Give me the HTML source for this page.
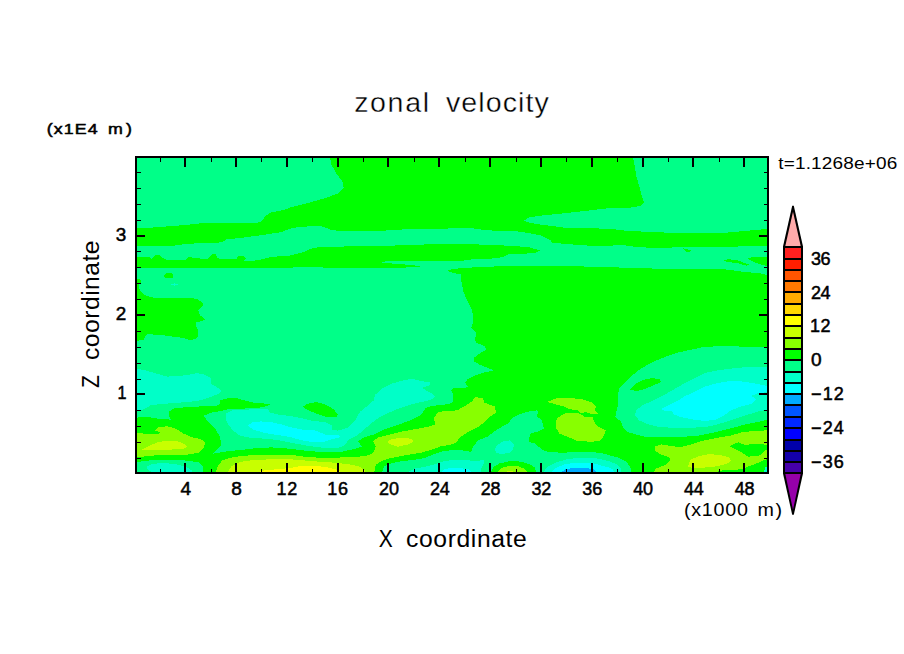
<!DOCTYPE html>
<html><head><meta charset="utf-8"><title>zonal velocity</title>
<style>
html,body{margin:0;padding:0;background:#fff;}
body{width:904px;height:654px;overflow:hidden;}
svg{display:block;font-family:"Liberation Sans",sans-serif;}
</style></head><body>
<svg width="904" height="654" viewBox="0 0 904 654">
<rect width="904" height="654" fill="#fff"/>
<clipPath id="cp"><rect x="136" y="157" width="632" height="316"/></clipPath>
<g shape-rendering="crispEdges">
<rect x="136" y="157" width="632" height="316" fill="#00ff88"/>
<g clip-path="url(#cp)">
<path fill="#00ff00" d="M329.8,157.0 L331.6,165.0 L336.0,173.0 L342.7,181.9 L343.6,188.0 L337.8,193.4 L325.4,198.1 L307.7,203.1 L290.0,207.5 L284.0,210.0 L271.6,212.3 L266.0,215.5 L262.0,220.8 L257.4,223.0 L236.0,223.5 L222.0,222.6 L208.0,222.6 L183.0,225.2 L156.5,227.3 L136.0,228.4 L136.0,245.6 L174.0,245.6 L183.0,244.3 L197.0,243.3 L222.0,242.4 L226.5,239.4 L243.0,237.6 L262.7,235.0 L280.4,232.3 L290.0,228.8 L298.8,227.0 L313.0,226.1 L321.9,226.5 L330.7,229.6 L336.0,230.5 L385.6,230.5 L405.0,229.3 L447.5,228.8 L450.0,227.9 L469.5,227.9 L481.9,229.6 L492.5,230.5 L517.3,231.4 L529.6,233.2 L542.0,235.8 L550.9,240.3 L550.9,242.4 L563.3,243.8 L588.0,245.6 L610.0,245.6 L624.0,245.2 L636.5,247.0 L654.2,247.9 L680.8,247.3 L734.0,247.0 L744.5,245.6 L768.0,245.6 L768.0,228.8 L744.5,231.0 L725.0,232.8 L672.0,232.8 L645.4,231.8 L624.2,230.5 L610.0,228.8 L588.0,228.2 L563.3,227.5 L538.5,224.3 L527.9,222.2 L524.0,220.4 L529.6,217.3 L542.0,215.5 L563.3,213.4 L584.5,211.0 L610.0,208.0 L631.2,207.5 L641.0,205.8 L644.0,202.2 L641.9,196.0 L636.5,176.5 L633.0,157.0Z"/>
<path fill="#00ff00" d="M136.0,257.3 L149.5,257.3 L151.0,259.0 L153.0,257.0 L155.0,255.2 L160.0,255.5 L163.0,258.0 L166.0,259.5 L186.0,259.5 L188.0,257.0 L191.0,256.6 L193.0,258.5 L199.0,257.8 L202.0,259.3 L208.0,259.0 L210.0,256.0 L213.0,254.0 L216.0,254.6 L217.0,257.5 L220.0,259.5 L236.0,259.3 L238.0,256.5 L244.0,256.0 L246.0,258.5 L244.0,261.0 L257.4,260.4 L268.0,257.7 L278.7,256.3 L290.0,255.5 L302.4,252.4 L313.0,248.0 L320.0,247.0 L359.0,246.2 L405.0,245.3 L438.7,243.9 L450.0,243.9 L476.5,244.4 L508.4,245.7 L527.9,247.0 L540.3,250.6 L536.7,252.4 L524.3,253.8 L508.4,254.5 L502.2,257.3 L490.7,258.6 L471.2,259.5 L460.6,260.9 L450.0,260.9 L386.5,260.9 L382.0,262.7 L389.0,263.4 L401.5,263.9 L410.0,265.3 L420.0,265.7 L420.0,266.5 L410.0,266.5 L405.0,267.8 L334.0,267.8 L300.6,266.9 L290.0,267.8 L183.0,267.8 L165.0,268.3 L136.0,267.8Z"/>
<path fill="#00ff00" d="M136.0,278.0 L140.6,279.8 L141.0,283.4 L138.8,285.0 L139.7,289.6 L143.3,294.0 L147.7,296.3 L153.0,297.5 L176.0,298.0 L190.2,297.5 L197.3,299.3 L202.6,302.8 L202.6,306.4 L198.1,310.0 L200.0,315.2 L205.2,319.6 L200.8,321.4 L196.4,322.3 L196.4,326.7 L198.1,330.3 L198.1,336.5 L195.5,339.0 L190.2,340.0 L183.0,337.9 L172.5,336.5 L158.3,334.7 L147.7,334.3 L145.0,336.5 L143.3,340.0 L136.0,340.9Z"/>
<path fill="#00ff00" d="M164.0,275.5 L166.0,273.2 L171.0,273.0 L173.0,275.0 L173.0,277.5 L165.0,277.7Z"/>
<path fill="#00ff00" d="M446.6,271.0 L450.0,270.0 L451.8,269.2 L463.3,268.0 L481.9,266.9 L503.0,266.2 L563.3,266.2 L610.0,266.9 L624.0,267.8 L659.6,268.7 L723.3,269.2 L744.5,271.9 L762.2,273.6 L768.0,275.4 L768.0,473.0 L631.2,473.0 L630.4,466.9 L626.0,461.6 L617.0,457.2 L610.0,455.4 L604.0,453.6 L591.6,451.9 L577.4,451.9 L563.3,452.7 L549.0,452.2 L542.0,450.0 L538.5,446.5 L535.0,443.5 L529.6,442.3 L528.8,439.1 L530.5,433.8 L538.5,431.2 L543.8,428.5 L542.0,420.5 L536.7,416.1 L538.5,412.6 L536.7,410.4 L527.9,411.7 L519.0,414.3 L512.0,417.9 L508.4,423.2 L503.0,426.2 L494.2,431.5 L487.2,436.8 L478.3,440.4 L473.0,446.5 L471.2,451.9 L460.6,450.0 L450.0,450.4 L442.2,451.5 L433.4,454.5 L424.5,458.0 L413.9,459.8 L399.7,461.6 L389.0,463.9 L383.8,466.9 L382.0,473.0 L203.5,473.0 L202.6,466.0 L199.0,462.5 L188.4,460.7 L174.2,459.8 L154.8,459.8 L144.2,461.0 L136.0,462.5 L136.0,417.9 L142.4,416.5 L147.7,417.0 L158.3,418.8 L170.7,419.6 L169.0,416.0 L169.0,411.7 L174.2,408.1 L186.6,407.3 L200.8,406.4 L211.4,406.4 L219.4,405.1 L220.3,400.2 L227.3,398.4 L236.2,398.0 L245.0,400.5 L253.9,402.8 L262.7,403.4 L270.7,404.0 L268.0,405.8 L257.4,408.1 L239.7,408.7 L229.0,409.0 L222.0,410.8 L211.4,412.6 L203.5,415.8 L207.9,421.4 L215.0,428.5 L219.4,435.6 L221.2,442.7 L220.3,446.5 L216.7,450.0 L213.2,453.6 L225.6,451.5 L243.3,449.7 L257.4,448.0 L271.6,447.4 L290.0,448.7 L307.7,451.0 L325.4,452.2 L343.0,451.5 L355.5,448.7 L361.7,446.5 L358.0,441.2 L364.3,437.3 L373.2,434.7 L382.0,430.3 L392.7,426.7 L405.0,422.3 L413.9,418.8 L421.0,415.2 L425.4,408.1 L431.6,405.8 L442.2,405.1 L450.0,403.7 L452.7,402.0 L453.5,394.9 L450.9,390.4 L453.5,388.1 L468.6,387.4 L465.0,382.5 L467.7,379.0 L474.8,375.4 L485.4,372.2 L493.9,370.4 L489.0,368.3 L480.0,364.8 L473.9,361.2 L473.9,357.7 L480.0,353.3 L486.3,349.7 L484.5,346.2 L476.5,342.7 L474.8,340.0 L476.5,332.9 L471.2,327.6 L473.0,323.2 L473.0,314.3 L471.2,308.1 L466.8,300.2 L463.3,291.3 L461.5,281.6 L461.0,274.5 L455.3,273.3 L450.0,271.9Z"/>
<path fill="#00ff00" d="M302.7,406.9 L307.7,403.7 L316.5,402.0 L325.4,404.6 L333.4,409.0 L337.8,414.3 L336.9,417.0 L325.4,416.5 L316.5,413.5 L307.7,410.0Z"/>
<path fill="#00ff00" d="M723.3,260.4 L728.6,259.1 L737.4,260.4 L749.8,264.8 L746.3,265.7 L737.4,263.0 L726.8,262.0Z"/>
<path fill="#00ff00" d="M746.3,257.7 L768.0,256.8 L768.0,266.5 L762.2,264.8 L751.6,261.2Z"/>
<path fill="#00ff00" d="M682.6,248.0 L691.4,250.5 L690.0,252.0 L686.0,251.5Z"/>
<path fill="#00ff00" d="M490.7,473.0 L493.4,466.9 L499.6,463.4 L510.2,461.0 L520.8,461.6 L529.6,464.2 L535.0,467.8 L536.4,473.0Z"/>
<path fill="#00ff88" d="M768.0,347.4 L748.0,347.0 L734.0,346.2 L716.2,346.2 L702.0,347.4 L687.9,350.3 L677.3,352.7 L663.0,357.7 L650.7,363.0 L640.0,369.2 L631.2,376.3 L624.2,383.4 L618.8,388.7 L618.0,396.6 L618.0,405.5 L616.2,411.7 L615.3,417.0 L620.6,421.4 L623.3,427.6 L627.7,432.0 L636.5,434.7 L647.2,437.3 L663.0,437.3 L680.8,437.0 L698.5,435.6 L716.2,432.0 L730.4,428.5 L744.5,424.6 L758.7,421.8 L768.0,419.6Z"/>
<path fill="#00ff00" d="M630.4,389.6 L634.8,384.2 L643.6,379.8 L652.5,378.0 L659.6,379.3 L661.3,382.0 L654.2,385.0 L645.4,388.7 L636.5,391.3Z"/>
<path fill="#88ff00" d="M136.0,432.4 L147.7,434.2 L158.3,433.8 L160.0,432.4 L154.8,430.3 L158.3,427.4 L167.2,426.2 L176.0,428.8 L183.0,433.3 L192.0,437.3 L200.8,439.1 L205.2,442.0 L203.5,448.3 L199.0,452.7 L188.4,454.5 L174.2,455.0 L158.3,455.0 L146.0,456.3 L136.0,457.2Z"/>
<path fill="#88ff00" d="M215.0,473.0 L218.5,465.0 L222.0,460.7 L229.0,458.0 L239.7,456.3 L253.9,455.0 L271.6,454.5 L290.0,454.5 L300.6,456.3 L316.5,457.5 L339.6,457.5 L357.3,456.8 L367.9,455.4 L373.2,452.7 L375.8,446.5 L373.2,441.2 L378.5,437.3 L389.0,434.7 L399.7,432.0 L413.9,429.4 L428.0,426.7 L435.0,424.6 L434.2,417.9 L437.8,412.6 L444.0,410.8 L450.0,410.8 L457.0,410.4 L464.2,406.4 L471.2,402.0 L475.7,397.0 L482.7,398.4 L484.5,402.8 L495.0,406.4 L496.0,412.6 L490.7,416.1 L485.4,421.4 L478.3,426.7 L469.5,431.2 L462.4,435.6 L458.0,440.0 L455.3,443.0 L450.0,444.8 L440.4,446.5 L431.6,449.7 L421.0,452.7 L410.4,454.5 L399.7,456.3 L389.0,458.6 L380.3,461.6 L375.8,465.0 L374.0,473.0Z"/>
<path fill="#88ff00" d="M547.0,402.0 L556.2,398.4 L570.4,398.0 L582.7,399.3 L591.6,402.3 L596.0,406.4 L595.0,410.0 L597.8,413.5 L591.6,414.3 L586.3,412.2 L581.0,413.0 L577.4,410.4 L568.6,409.0 L563.3,406.4 L554.4,404.0Z"/>
<path fill="#88ff00" d="M557.0,417.9 L565.0,413.5 L577.4,412.6 L584.5,416.5 L592.5,417.0 L595.0,423.2 L598.7,427.0 L605.8,430.3 L604.0,435.6 L600.4,440.5 L591.6,441.8 L577.4,440.9 L566.8,436.5 L559.7,433.8 L556.2,428.5 L556.2,421.4Z"/>
<path fill="#88ff00" d="M652.5,473.0 L656.0,468.7 L664.9,465.0 L670.2,460.7 L669.3,457.2 L661.3,454.5 L655.0,451.0 L655.0,446.5 L661.3,444.4 L672.0,446.2 L680.8,447.0 L691.4,444.4 L702.0,440.9 L716.2,438.0 L730.4,435.6 L742.7,432.0 L755.0,431.0 L768.0,430.3 L768.0,458.4 L758.7,462.6 L751.4,465.3 L745.9,467.6 L740.4,469.4 L727.5,470.0 L722.9,470.4 L712.0,473.0Z"/>
<path fill="#00ff00" d="M729.8,446.5 L734.0,444.0 L738.5,442.4 L744.0,444.7 L756.9,444.2 L768.0,444.7 L768.0,448.3 L763.0,452.5 L758.7,456.1 L747.7,456.6 L740.4,451.6 L734.9,448.8Z"/>
<path fill="#88ff00" d="M496.4,473.0 L501.3,467.8 L510.2,465.7 L519.0,466.4 L525.2,469.2 L527.9,473.0Z"/>
<path fill="#c8ff00" d="M141.5,449.7 L147.7,446.5 L156.5,442.7 L165.4,440.9 L177.8,441.2 L184.9,444.4 L187.0,446.9 L183.0,449.2 L165.4,449.7Z"/>
<path fill="#c8ff00" d="M227.3,473.0 L230.9,466.9 L236.2,463.4 L245.0,461.0 L257.4,459.8 L271.6,459.3 L290.0,459.3 L304.2,460.4 L318.3,461.6 L332.5,462.5 L348.4,464.2 L359.0,466.4 L364.3,469.6 L366.0,473.0Z"/>
<path fill="#c8ff00" d="M387.0,441.8 L392.7,438.8 L403.3,437.9 L411.2,438.8 L413.9,441.2 L408.6,444.4 L398.0,446.7 L390.9,444.8Z"/>
<path fill="#c8ff00" d="M687.9,466.4 L690.5,459.8 L698.5,456.3 L709.0,454.0 L719.7,455.0 L728.6,457.2 L731.2,460.4 L726.8,463.9 L716.2,466.4 L702.0,467.8 L693.2,468.1Z"/>
<path fill="#c8ff00" d="M503.0,473.0 L510.0,470.4 L517.0,473.0Z"/>
<path fill="#ffff00" d="M253.9,473.0 L264.5,470.4 L276.9,469.2 L290.0,468.1 L300.6,466.0 L311.2,465.7 L325.4,466.9 L336.0,469.6 L343.0,473.0Z"/>
<path fill="#00ffc8" d="M136.0,368.3 L147.7,371.0 L156.5,373.6 L167.2,376.6 L179.6,376.0 L190.2,374.5 L197.3,373.1 L204.3,374.5 L211.0,378.0 L210.5,383.4 L216.7,386.9 L222.0,391.0 L218.5,394.0 L211.4,396.6 L200.8,400.2 L188.4,402.0 L176.0,402.8 L161.9,404.0 L151.2,405.1 L146.0,408.1 L140.6,410.8 L136.0,411.7Z"/>
<path fill="#00ffc8" d="M225.6,417.9 L226.5,413.5 L232.7,410.4 L245.0,409.6 L268.0,409.0 L269.8,412.6 L276.9,414.3 L290.0,416.0 L300.6,417.9 L311.2,420.5 L325.4,422.3 L331.6,425.0 L331.6,429.4 L337.8,430.6 L348.4,427.6 L355.5,419.6 L360.0,411.7 L367.9,405.5 L374.0,400.2 L375.0,394.9 L382.0,388.7 L392.7,383.4 L403.3,380.4 L412.0,378.9 L421.0,381.0 L429.8,382.5 L429.8,385.0 L422.7,387.8 L426.3,391.0 L431.6,393.0 L435.0,397.0 L429.8,400.2 L413.9,403.7 L399.7,408.1 L389.0,412.6 L378.5,417.9 L371.4,423.2 L364.3,429.4 L358.0,434.7 L348.4,440.0 L344.9,445.3 L337.8,448.0 L325.4,448.0 L307.7,445.8 L290.0,442.5 L280.4,440.5 L268.0,438.8 L250.4,437.9 L239.7,435.6 L232.7,430.3 L227.3,423.2Z"/>
<path fill="#00ffc8" d="M495.0,449.2 L496.9,445.7 L503.0,441.2 L510.2,440.4 L513.7,443.9 L513.4,449.2 L510.2,452.7 L501.3,454.0 L496.0,452.7Z"/>
<path fill="#00ffc8" d="M146.8,466.9 L151.2,464.2 L161.9,463.0 L174.2,463.9 L184.9,466.4 L192.0,470.4 L192.8,473.0 L153.0,473.0 L147.7,469.6Z"/>
<path fill="#00ffc8" d="M406.8,473.0 L413.9,468.7 L424.5,466.9 L435.0,464.2 L442.2,461.6 L450.0,460.4 L460.6,459.8 L473.0,460.7 L483.6,460.4 L483.6,464.2 L481.0,468.7 L481.0,473.0Z"/>
<path fill="#00ffc8" d="M543.0,473.0 L547.3,466.9 L556.2,462.5 L566.8,459.3 L581.0,457.5 L595.0,458.0 L605.8,460.4 L610.0,461.6 L617.0,464.2 L620.6,467.8 L620.6,473.0Z"/>
<path fill="#00ffc8" d="M768.0,366.5 L751.6,366.5 L734.0,368.3 L719.7,370.0 L705.6,372.7 L695.0,378.0 L684.3,383.4 L672.0,390.4 L661.3,396.6 L652.5,401.0 L643.6,404.6 L636.5,410.0 L634.8,415.2 L639.2,420.5 L649.0,424.6 L659.6,427.0 L677.3,428.1 L695.0,427.6 L709.0,426.4 L723.3,422.8 L737.4,417.9 L751.6,413.5 L760.4,410.8 L768.0,410.0Z"/>
<path fill="#00ffc8" d="M764.0,473.0 L765.0,467.6 L768.0,466.0 L768.0,473.0Z"/>
<path fill="#00ffc8" d="M171.0,284.5 L174.0,283.4 L178.7,284.3 L175.0,285.7Z"/>
<path fill="#00ffff" d="M247.7,425.8 L252.0,422.3 L261.0,421.4 L271.6,422.3 L282.2,424.6 L290.0,427.0 L300.6,429.4 L314.8,430.3 L325.4,434.7 L338.7,435.2 L340.4,437.3 L330.7,439.5 L323.6,441.8 L313.0,442.3 L300.6,440.0 L290.0,437.0 L278.7,435.2 L264.5,432.9 L253.9,429.9Z"/>
<path fill="#00ffff" d="M768.0,386.0 L757.0,383.9 L744.5,381.6 L730.4,381.0 L716.2,383.4 L705.6,386.4 L695.0,391.3 L684.3,396.6 L675.5,402.0 L666.6,406.4 L661.3,408.7 L664.0,410.8 L672.0,410.8 L673.7,414.3 L680.8,417.0 L691.4,419.3 L705.6,421.0 L716.2,419.6 L723.3,416.1 L730.4,410.8 L739.2,406.9 L751.6,404.0 L756.0,399.3 L751.6,395.8 L758.7,393.0 L768.0,392.2Z"/>
<path fill="#00ffff" d="M450.0,467.8 L460.6,468.1 L469.5,469.6 L473.0,473.0 L450.0,473.0 L440.0,473.0 L444.0,469.5Z"/>
<path fill="#00ffff" d="M550.9,473.0 L556.2,467.8 L565.0,464.2 L577.4,462.5 L591.6,462.8 L602.2,465.7 L610.0,467.8 L612.7,469.6 L614.4,473.0Z"/>
<path fill="#00aaff" d="M559.7,473.0 L565.0,469.6 L573.9,467.8 L584.5,467.8 L593.4,469.2 L596.9,473.0Z"/>
</g>
<g fill="#000">
<rect x="160" y="158" width="1" height="4"/>
<rect x="160" y="469" width="1" height="3"/>
<rect x="184" y="158" width="2" height="9"/>
<rect x="184" y="463" width="2" height="9"/>
<rect x="211" y="158" width="1" height="4"/>
<rect x="211" y="469" width="1" height="3"/>
<rect x="235" y="158" width="2" height="9"/>
<rect x="235" y="463" width="2" height="9"/>
<rect x="261" y="158" width="1" height="4"/>
<rect x="261" y="469" width="1" height="3"/>
<rect x="286" y="158" width="2" height="9"/>
<rect x="286" y="463" width="2" height="9"/>
<rect x="312" y="158" width="1" height="4"/>
<rect x="312" y="469" width="1" height="3"/>
<rect x="337" y="158" width="2" height="9"/>
<rect x="337" y="463" width="2" height="9"/>
<rect x="363" y="158" width="1" height="4"/>
<rect x="363" y="469" width="1" height="3"/>
<rect x="387" y="158" width="2" height="9"/>
<rect x="387" y="463" width="2" height="9"/>
<rect x="414" y="158" width="1" height="4"/>
<rect x="414" y="469" width="1" height="3"/>
<rect x="438" y="158" width="2" height="9"/>
<rect x="438" y="463" width="2" height="9"/>
<rect x="465" y="158" width="1" height="4"/>
<rect x="465" y="469" width="1" height="3"/>
<rect x="489" y="158" width="2" height="9"/>
<rect x="489" y="463" width="2" height="9"/>
<rect x="516" y="158" width="1" height="4"/>
<rect x="516" y="469" width="1" height="3"/>
<rect x="540" y="158" width="2" height="9"/>
<rect x="540" y="463" width="2" height="9"/>
<rect x="566" y="158" width="1" height="4"/>
<rect x="566" y="469" width="1" height="3"/>
<rect x="591" y="158" width="2" height="9"/>
<rect x="591" y="463" width="2" height="9"/>
<rect x="617" y="158" width="1" height="4"/>
<rect x="617" y="469" width="1" height="3"/>
<rect x="642" y="158" width="2" height="9"/>
<rect x="642" y="463" width="2" height="9"/>
<rect x="668" y="158" width="1" height="4"/>
<rect x="668" y="469" width="1" height="3"/>
<rect x="692" y="158" width="2" height="9"/>
<rect x="692" y="463" width="2" height="9"/>
<rect x="719" y="158" width="1" height="4"/>
<rect x="719" y="469" width="1" height="3"/>
<rect x="743" y="158" width="2" height="9"/>
<rect x="743" y="463" width="2" height="9"/>
<rect x="137" y="172" width="4" height="1"/>
<rect x="764" y="172" width="3" height="1"/>
<rect x="137" y="188" width="4" height="1"/>
<rect x="764" y="188" width="3" height="1"/>
<rect x="137" y="204" width="4" height="1"/>
<rect x="764" y="204" width="3" height="1"/>
<rect x="137" y="220" width="4" height="1"/>
<rect x="764" y="220" width="3" height="1"/>
<rect x="137" y="235" width="8" height="2"/>
<rect x="759" y="235" width="8" height="2"/>
<rect x="137" y="251" width="4" height="1"/>
<rect x="764" y="251" width="3" height="1"/>
<rect x="137" y="267" width="4" height="1"/>
<rect x="764" y="267" width="3" height="1"/>
<rect x="137" y="283" width="4" height="1"/>
<rect x="764" y="283" width="3" height="1"/>
<rect x="137" y="299" width="4" height="1"/>
<rect x="764" y="299" width="3" height="1"/>
<rect x="137" y="314" width="8" height="2"/>
<rect x="759" y="314" width="8" height="2"/>
<rect x="137" y="331" width="4" height="1"/>
<rect x="764" y="331" width="3" height="1"/>
<rect x="137" y="347" width="4" height="1"/>
<rect x="764" y="347" width="3" height="1"/>
<rect x="137" y="363" width="4" height="1"/>
<rect x="764" y="363" width="3" height="1"/>
<rect x="137" y="379" width="4" height="1"/>
<rect x="764" y="379" width="3" height="1"/>
<rect x="137" y="393" width="8" height="2"/>
<rect x="759" y="393" width="8" height="2"/>
<rect x="137" y="410" width="4" height="1"/>
<rect x="764" y="410" width="3" height="1"/>
<rect x="137" y="426" width="4" height="1"/>
<rect x="764" y="426" width="3" height="1"/>
<rect x="137" y="442" width="4" height="1"/>
<rect x="764" y="442" width="3" height="1"/>
<rect x="137" y="458" width="4" height="1"/>
<rect x="764" y="458" width="3" height="1"/>
</g>
<rect x="136" y="157" width="632" height="316" fill="none" stroke="#000" stroke-width="2"/>
</g>
<g>
<g shape-rendering="crispEdges"><rect x="783" y="246" width="20" height="228" fill="#000"/>
<rect x="785" y="248" width="16" height="10" fill="#ff2020"/>
<rect x="785" y="260" width="16" height="9" fill="#ff1e00"/>
<rect x="785" y="271" width="16" height="9" fill="#ff5500"/>
<rect x="785" y="282" width="16" height="9" fill="#ff7800"/>
<rect x="785" y="293" width="16" height="10" fill="#ffaa00"/>
<rect x="785" y="305" width="16" height="9" fill="#ffd700"/>
<rect x="785" y="316" width="16" height="9" fill="#ffff00"/>
<rect x="785" y="327" width="16" height="10" fill="#c8ff00"/>
<rect x="785" y="339" width="16" height="9" fill="#88ff00"/>
<rect x="785" y="350" width="16" height="9" fill="#00ff00"/>
<rect x="785" y="361" width="16" height="10" fill="#00ff88"/>
<rect x="785" y="373" width="16" height="9" fill="#00ffc8"/>
<rect x="785" y="384" width="16" height="9" fill="#00ffff"/>
<rect x="785" y="395" width="16" height="9" fill="#00aaff"/>
<rect x="785" y="406" width="16" height="10" fill="#0055ff"/>
<rect x="785" y="418" width="16" height="9" fill="#0028ff"/>
<rect x="785" y="429" width="16" height="10" fill="#0000ff"/>
<rect x="785" y="441" width="16" height="9" fill="#0000aa"/>
<rect x="785" y="452" width="16" height="9" fill="#1400aa"/>
<rect x="785" y="463" width="16" height="9" fill="#4600aa"/>
</g>
<path d="M783,246.5 L792.2,205.8 L793.8,205.8 L803,246.5Z" fill="#000"/>
<path d="M785.3,246 L793,211.8 L800.7,246Z" fill="#ffaaaa"/>
<path d="M783,473.5 L792.2,514.7 L793.8,514.7 L803,473.5Z" fill="#000"/>
<path d="M785.3,474 L793,509.8 L800.7,474Z" fill="#9600aa"/>
</g>
<g fill="#000">
<text transform="translate(355.20,111.8) scale(1.060,1)" x="-1.00" y="0" font-size="27" letter-spacing="1.53" stroke="#fff" stroke-width="0.35" paint-order="fill stroke">zonal</text>
<text transform="translate(446.00,111.8) scale(1.060,1)" x="0.00" y="0" font-size="27" letter-spacing="0.99" stroke="#fff" stroke-width="0.35" paint-order="fill stroke">velocity</text>
<text transform="translate(46.70,133.6) scale(1.220,1)" x="0.00" y="0" font-size="14.6" letter-spacing="0.93" stroke="#000" stroke-width="0.5">(x1E4</text>
<text transform="translate(108.00,133.6) scale(1.220,1)" x="0.00" y="0" font-size="14.6" letter-spacing="2.53" stroke="#000" stroke-width="0.5">m)</text>
<text transform="translate(778.20,168.7) scale(1.150,1)" x="0.00" y="0" font-size="16.5" letter-spacing="0.16" >t=1.1268e+06</text>
<text transform="translate(685.00,516.2) scale(1.120,1)" x="-1.00" y="0" font-size="17.6" letter-spacing="0.70" >(x1000</text>
<text transform="translate(758.60,516.2) scale(1.120,1)" x="-1.00" y="0" font-size="17.6" letter-spacing="1.34" >m)</text>
<text transform="translate(378.80,546.6) scale(0.900,1)" x="0.00" y="0" font-size="23.3" letter-spacing="0.00" >X</text>
<text transform="translate(406.00,546.6) scale(1.060,1)" x="0.00" y="0" font-size="23.3" letter-spacing="0.58" >coordinate</text>
<text transform="translate(99.0,388.0) rotate(-90) scale(0.900,1)" x="0.00" y="0" font-size="23.3" letter-spacing="0.00" >Z</text>
<text transform="translate(99.0,360.0) rotate(-90) scale(1.060,1)" x="0.00" y="0" font-size="23.3" letter-spacing="0.45" >coordinate</text>
<text transform="translate(180.40,495.0) scale(1.060,1)" x="0.00" y="0" font-size="18" letter-spacing="0.00" stroke="#000" stroke-width="0.5">4</text>
<text transform="translate(231.22,495.0) scale(1.060,1)" x="0.00" y="0" font-size="18" letter-spacing="0.00" stroke="#000" stroke-width="0.5">8</text>
<text transform="translate(277.44,495.0) scale(1.000,1)" x="-1.00" y="0" font-size="18" letter-spacing="0.79" stroke="#000" stroke-width="0.5">12</text>
<text transform="translate(328.26,495.0) scale(1.000,1)" x="-1.00" y="0" font-size="18" letter-spacing="0.79" stroke="#000" stroke-width="0.5">16</text>
<text transform="translate(379.08,495.0) scale(1.000,1)" x="0.00" y="0" font-size="18" letter-spacing="-0.21" stroke="#000" stroke-width="0.5">20</text>
<text transform="translate(429.90,495.0) scale(1.000,1)" x="0.00" y="0" font-size="18" letter-spacing="-0.21" stroke="#000" stroke-width="0.5">24</text>
<text transform="translate(480.72,495.0) scale(1.000,1)" x="0.00" y="0" font-size="18" letter-spacing="-0.21" stroke="#000" stroke-width="0.5">28</text>
<text transform="translate(531.54,495.0) scale(1.000,1)" x="0.00" y="0" font-size="18" letter-spacing="-0.21" stroke="#000" stroke-width="0.5">32</text>
<text transform="translate(582.36,495.0) scale(1.000,1)" x="0.00" y="0" font-size="18" letter-spacing="-0.21" stroke="#000" stroke-width="0.5">36</text>
<text transform="translate(633.18,495.0) scale(1.000,1)" x="0.00" y="0" font-size="18" letter-spacing="-0.21" stroke="#000" stroke-width="0.5">40</text>
<text transform="translate(684.00,495.0) scale(1.000,1)" x="0.00" y="0" font-size="18" letter-spacing="-0.21" stroke="#000" stroke-width="0.5">44</text>
<text transform="translate(734.82,495.0) scale(1.000,1)" x="0.00" y="0" font-size="18" letter-spacing="-0.21" stroke="#000" stroke-width="0.5">48</text>
<text transform="translate(118.50,399.0) scale(0.900,1)" x="-1.00" y="0" font-size="18" letter-spacing="0.00" stroke="#000" stroke-width="0.5">1</text>
<text transform="translate(115.80,320.0) scale(1.050,1)" x="0.00" y="0" font-size="18" letter-spacing="0.00" stroke="#000" stroke-width="0.5">2</text>
<text transform="translate(115.80,241.0) scale(1.050,1)" x="0.00" y="0" font-size="18" letter-spacing="0.00" stroke="#000" stroke-width="0.5">3</text>
<text transform="translate(811.00,264.6) scale(1.000,1)" x="0.00" y="0" font-size="18" letter-spacing="-0.61" stroke="#000" stroke-width="0.5">36</text>
<text transform="translate(811.00,298.5) scale(1.000,1)" x="0.00" y="0" font-size="18" letter-spacing="-0.61" stroke="#000" stroke-width="0.5">24</text>
<text transform="translate(811.00,332.4) scale(1.000,1)" x="-1.00" y="0" font-size="18" letter-spacing="0.39" stroke="#000" stroke-width="0.5">12</text>
<text transform="translate(811.00,366.3) scale(1.060,1)" x="0.00" y="0" font-size="18" letter-spacing="0.00" stroke="#000" stroke-width="0.5">0</text>
<text transform="translate(811.00,400.2) scale(1.000,1)" x="0.00" y="0" font-size="18" letter-spacing="1.14" stroke="#000" stroke-width="0.5">−12</text>
<text transform="translate(811.00,434.1) scale(1.000,1)" x="0.00" y="0" font-size="18" letter-spacing="1.14" stroke="#000" stroke-width="0.5">−24</text>
<text transform="translate(811.00,468.0) scale(1.000,1)" x="0.00" y="0" font-size="18" letter-spacing="1.14" stroke="#000" stroke-width="0.5">−36</text>
</g>
</svg>
</body></html>
